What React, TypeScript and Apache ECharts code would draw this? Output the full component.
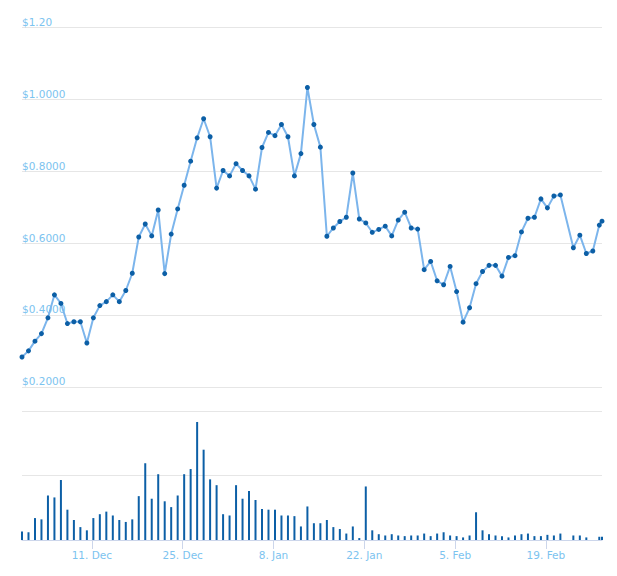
import React, { useEffect, useRef } from "react";
import * as echarts from "echarts";

// Daily observations start at this time; one point per day (index = day offset)
const startTime = "2017-11-30T05:30:00Z";
// Latest (partial-day) observation
const lastTime = "2018-02-27T15:30:00Z";

// Closing price (USD) per day; null = no data that day
const prices: (number | null)[] = [
  0.283, 0.300, 0.327, 0.348, 0.392, 0.456, 0.432, 0.376, 0.381, 0.381,
  0.322, 0.392, 0.426, 0.437, 0.456, 0.437, 0.468, 0.516, 0.617, 0.653,
  0.620, 0.692, 0.515, 0.625, 0.695, 0.761, 0.828, 0.893, 0.946, 0.896,
  0.753, 0.802, 0.787, 0.821, 0.802, 0.787, 0.750, 0.866, 0.908, 0.899,
  0.930, 0.896, 0.787, 0.849, 1.033, 0.930, 0.867, 0.619, 0.642, 0.660,
  0.672, 0.795, 0.667, 0.656, 0.630, 0.638, 0.647, 0.620, 0.664, 0.686,
  0.642, 0.639, 0.526, 0.549, 0.495, 0.484, 0.535, 0.465, 0.380, 0.420,
  0.487, 0.521, 0.538, 0.538, 0.508, 0.560, 0.565, 0.631, 0.669, 0.672,
  0.723, 0.698, 0.731, 0.734, null, 0.587, 0.622, 0.571, 0.578, 0.650,
];
const lastPrice = 0.661;

// Trading volume (millions) per day; null = no data that day
const volumes: (number | null)[] = [
  13, 12, 34, 32, 69, 66, 93, 47, 31, 20,
  15, 34, 40, 44, 38, 31, 28, 32, 68, 119,
  64, 102, 60, 51, 69, 102, 110, 183, 140, 94,
  85, 40, 38, 85, 64, 76, 62, 48, 47, 47,
  38, 38, 37, 21, 52, 26, 26, 31, 20, 17,
  10, 21, 3, 83, 15, 9, 7, 9, 7, 6,
  7, 7, 10, 6, 10, 12, 7, 6, 4, 7,
  43, 15, 9, 7, 6, 4, 7, 9, 10, 6,
  6, 8, 7, 10, null, 7, 7, 4, null, 5,
];
const lastVolume = 5;

// Date-axis tick labels
const tickDates = ["2017-12-11", "2017-12-25", "2018-01-08", "2018-01-22", "2018-02-05", "2018-02-19"];
const monthNames = ["Jan", "Feb", "Mar", "Apr", "May", "Jun", "Jul", "Aug", "Sep", "Oct", "Nov", "Dec"];

// Price axis ticks
const priceMin = 0.2;
const priceMax = 1.2;
const priceStep = 0.2;
// Volume axis ticks
const volumeMax = 200;
const volumeStep = 100;

const DAY = 86400000;

export default function App() {
  const ref = useRef<HTMLDivElement>(null);

  useEffect(() => {
    if (!ref.current) return;
    const chart = echarts.init(ref.current, undefined, { renderer: "svg" });

    const t0 = Date.parse(startTime);
    const tLast = Date.parse(lastTime);
    const priceData: [number, number | null][] = prices.map((p, i) => [t0 + i * DAY, p]);
    priceData.push([tLast, lastPrice]);
    const volumeData: [number, number | null][] = volumes.map((v, i) => [t0 + i * DAY, v]);
    volumeData.push([tLast, lastVolume]);
    const ticks = tickDates.map((d) => Date.parse(d + "T00:00:00Z"));

    const labelColor = "#7cc3ef";
    const gridColor = "#e6e6e6";
    const darkBlue = "#0c5fa6";
    const font = "'DejaVu Sans', Verdana, sans-serif";

    chart.setOption({
      animation: false,
      backgroundColor: "#ffffff",
      grid: [
        { left: 22, right: 15, top: 27.5, height: 359.3 },
        { left: 22, right: 15, top: 411, height: 129 },
      ],
      xAxis: [
        {
          type: "value",
          gridIndex: 0,
          min: t0,
          max: tLast,
          axisLine: { show: false },
          axisTick: { show: false },
          axisLabel: { show: false },
          splitLine: { show: false },
        },
        {
          type: "value",
          gridIndex: 1,
          min: t0,
          max: tLast,
          axisLine: { show: true, onZero: false, lineStyle: { color: "#ccd6eb", width: 1 } },
          axisTick: {
            show: true,
            customValues: ticks,
            length: 9,
            lineStyle: { color: "#ccd6eb", width: 1 },
          },
          axisLabel: {
            show: true,
            customValues: ticks,
            color: labelColor,
            fontSize: 10.5,
            fontFamily: font,
            margin: 9,
            formatter: (v: number) => {
              const d = new Date(v);
              return `${d.getUTCDate()}. ${monthNames[d.getUTCMonth()]}`;
            },
          },
          splitLine: { show: false },
        },
      ],
      yAxis: [
        {
          type: "value",
          gridIndex: 0,
          min: priceMin,
          max: priceMax,
          interval: priceStep,
          axisLine: { show: false },
          axisTick: { show: false },
          splitLine: { show: true, lineStyle: { color: gridColor, width: 1 } },
          axisLabel: {
            inside: true,
            align: "left",
            verticalAlign: "bottom",
            margin: 0,
            padding: [0, 0, 0, 0],
            color: labelColor,
            fontSize: 10.5,
            fontFamily: font,
            formatter: (v: number) => (v > 1.1 ? "$" + v.toFixed(2) : "$" + v.toFixed(4)),
          },
        },
        {
          type: "value",
          gridIndex: 1,
          min: 0,
          max: volumeMax,
          interval: volumeStep,
          axisLine: { show: false },
          axisTick: { show: false },
          axisLabel: { show: false },
          splitLine: { show: true, lineStyle: { color: gridColor, width: 1 } },
        },
      ],
      series: [
        {
          name: "Price",
          type: "line",
          xAxisIndex: 0,
          yAxisIndex: 0,
          data: priceData,
          connectNulls: true,
          showAllSymbol: true,
          symbol: "circle",
          symbolSize: 5,
          lineStyle: { color: "#7cb5ec", width: 2 },
          itemStyle: { color: darkBlue, borderWidth: 0 },
          z: 3,
        },
        {
          name: "Volume",
          type: "bar",
          xAxisIndex: 1,
          yAxisIndex: 1,
          data: volumeData,
          barWidth: 2,
          itemStyle: { color: darkBlue },
        },
      ],
    });

    return () => chart.dispose();
  }, []);

  return (
    <div
      ref={ref}
      style={{ position: "absolute", left: 0, top: 0, width: 617, height: 576, background: "#fff" }}
    />
  );
}
